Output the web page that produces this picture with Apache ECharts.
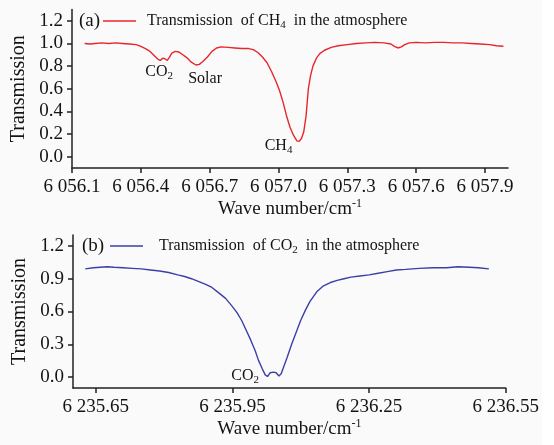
<!DOCTYPE html>
<html>
<head>
<meta charset="utf-8">
<script src="https://cdn.jsdelivr.net/npm/echarts@6/dist/echarts.min.js"></script>
<style>
  html, body { margin: 0; padding: 0; background: #fff; }
  #chart { width: 542px; height: 445px; background: #fafafa; }
</style>
</head>
<body>
<div id="chart"></div>
<script>
// (a) CH4 band
const waveA = [6056.155, 6056.18, 6056.20, 6056.23, 6056.26, 6056.29, 6056.32, 6056.35, 6056.38, 6056.40,
    6056.42, 6056.44, 6056.46, 6056.475, 6056.485, 6056.495, 6056.505, 6056.515, 6056.525, 6056.535,
    6056.55, 6056.565, 6056.58, 6056.60, 6056.62, 6056.64, 6056.655, 6056.67, 6056.69, 6056.71,
    6056.73, 6056.75, 6056.78, 6056.81, 6056.84, 6056.87, 6056.89, 6056.91, 6056.93, 6056.95,
    6056.97, 6056.99, 6057.005, 6057.02, 6057.035, 6057.05, 6057.065, 6057.08, 6057.09, 6057.10,
    6057.11, 6057.12, 6057.13, 6057.14, 6057.15, 6057.165, 6057.18, 6057.20, 6057.23, 6057.26,
    6057.30, 6057.34, 6057.38, 6057.42, 6057.46, 6057.49, 6057.505, 6057.52, 6057.535, 6057.55,
    6057.57, 6057.60, 6057.64, 6057.68, 6057.72, 6057.76, 6057.80, 6057.84, 6057.88, 6057.92,
    6057.95, 6057.98]
const transA = [1.00, 0.995, 1.00, 1.005, 1.00, 1.005, 1.00, 0.995, 0.99, 0.975,
    0.955, 0.93, 0.89, 0.86, 0.85, 0.87, 0.865, 0.85, 0.88, 0.915,
    0.93, 0.925, 0.905, 0.875, 0.835, 0.81, 0.815, 0.84, 0.88, 0.93,
    0.96, 0.97, 0.965, 0.96, 0.955, 0.955, 0.945, 0.92, 0.88, 0.83,
    0.75, 0.66, 0.58, 0.48, 0.36, 0.26, 0.19, 0.14, 0.135, 0.16,
    0.22, 0.36, 0.60, 0.72, 0.80, 0.87, 0.91, 0.94, 0.965, 0.98,
    0.99, 1.00, 1.005, 1.01, 1.005, 0.995, 0.975, 0.96, 0.97, 0.99,
    1.005, 1.01, 1.005, 1.01, 1.01, 1.005, 1.005, 1.00, 0.995, 0.99,
    0.98, 0.975]

// (b) CO2 band
const waveB = [6235.627, 6235.645, 6235.66, 6235.675, 6235.69, 6235.71, 6235.73, 6235.75, 6235.77, 6235.79,
    6235.81, 6235.83, 6235.845, 6235.86, 6235.875, 6235.89, 6235.905, 6235.92, 6235.935, 6235.95,
    6235.96, 6235.97, 6235.98, 6235.99, 6236.00, 6236.007, 6236.015, 6236.022, 6236.027, 6236.033,
    6236.04, 6236.046, 6236.052, 6236.057, 6236.063, 6236.07, 6236.08, 6236.09, 6236.10, 6236.11,
    6236.12, 6236.135, 6236.15, 6236.165, 6236.18, 6236.195, 6236.21, 6236.23, 6236.25, 6236.27,
    6236.29, 6236.31, 6236.33, 6236.36, 6236.39, 6236.42, 6236.445, 6236.47, 6236.49, 6236.513]
const transB = [0.99, 1.00, 1.005, 1.01, 1.005, 1.00, 0.995, 0.99, 0.98, 0.97,
    0.957, 0.935, 0.92, 0.90, 0.875, 0.85, 0.82, 0.77, 0.72, 0.645,
    0.59, 0.52, 0.43, 0.34, 0.24, 0.155, 0.08, 0.02, 0.005, 0.04,
    0.045, 0.04, 0.01, 0.03, 0.10, 0.18, 0.30, 0.41, 0.52, 0.61,
    0.69, 0.78, 0.835, 0.865, 0.885, 0.90, 0.915, 0.925, 0.935, 0.95,
    0.965, 0.98, 0.985, 0.995, 1.00, 1.00, 1.01, 1.005, 1.00, 0.99]

const ticksA = [6056.1, 6056.4, 6056.7, 6057.0, 6057.3, 6057.6, 6057.9]
const ticksB = [6235.65, 6235.95, 6236.25, 6236.55]
const yTicksA = [0, 0.2, 0.4, 0.6, 0.8, 1.0, 1.2]
const yTicksB = [0, 0.3, 0.6, 0.9, 1.2]

// annotation text: [main, subscript, wave number, transmission]
const notesA = [['CO', '2', 6056.48, 0.75], ['Solar', '', 6056.68, 0.69], ['CH', '4', 6057.0, 0.094]]
const notesB = [['CO', '2', 6235.978, 0.015]]

const nameA = 'Transmission  of CH4  in the atmosphere'
const nameB = 'Transmission  of CO2  in the atmosphere'

const FONT = '"Liberation Serif", "Times New Roman", serif'
const INK = '#141414'
const AXIS = '#222'

const richText = {
    t: { fontFamily: FONT, fontSize: 16, lineHeight: 20, color: INK },
    s: { fontFamily: FONT, fontSize: 11, lineHeight: 11, color: INK, verticalAlign: 'bottom' },
    n: { fontFamily: FONT, fontSize: 19, lineHeight: 22, color: INK },
    p: { fontFamily: FONT, fontSize: 12, lineHeight: 12, color: INK, verticalAlign: 'top' }
}

function legendText(name) {
    const m = name.match(/^(.*C[HO])(\d)(.*)$/)
    return '{t|' + m[1] + '}{s|' + m[2] + '}{t|' + m[3] + '}'
}

function noteData(notes) {
    return notes.map(function (n) {
        return {
            coord: [n[2], n[3]],
            label: { formatter: '{t|' + n[0] + '}' + (n[1] ? '{s|' + n[1] + '}' : '') }
        }
    })
}

function waveFmt(d) {
    return function (v) {
        const s = v.toFixed(d)
        return s[0] + ' ' + s.slice(1)
    }
}

function zip(xs, ys) {
    return xs.map(function (x, i) { return [x, ys[i]] })
}

function xAxisOf(grid, min, max, ticks, digits) {
    return {
        type: 'value', gridIndex: grid, min: min, max: max,
        axisLine: { show: true, onZero: false, lineStyle: { color: AXIS, width: 1.5 } },
        axisTick: { show: true, length: 5, customValues: ticks, lineStyle: { color: AXIS, width: 1.5 } },
        axisLabel: { customValues: ticks, formatter: waveFmt(digits), fontFamily: FONT, fontSize: 19, color: INK, margin: 10 },
        splitLine: { show: false },
        name: '{n|Wave number/cm}{p|-1}',
        nameLocation: 'middle',
        nameGap: 29,
        nameTextStyle: { rich: richText }
    }
}

function yAxisOf(grid, ticks) {
    return {
        type: 'value', gridIndex: grid, min: -0.1, max: 1.3,
        axisLine: { show: true, onZero: false, lineStyle: { color: AXIS, width: 1.5 } },
        axisTick: { show: true, length: 5, customValues: ticks, lineStyle: { color: AXIS, width: 1.5 } },
        axisLabel: { customValues: ticks, formatter: function (v) { return v.toFixed(1) }, fontFamily: FONT, fontSize: 19, color: INK, margin: 9 },
        splitLine: { show: false },
        name: 'Transmission',
        nameLocation: 'middle',
        nameGap: 37,
        nameTextStyle: { fontFamily: FONT, fontSize: 20, color: INK }
    }
}

function legendOf(name, left, top, pad) {
    return {
        data: [{ name: name, icon: 'rect' }], left: left, top: top,
        padding: 0,
        itemWidth: 33, itemHeight: 1.5,
        formatter: legendText,
        textStyle: { rich: richText, padding: [0, 0, 0, pad] },
        selectedMode: false
    }
}

function seriesOf(name, idx, xs, ys, color, notes) {
    return {
        name: name, type: 'line', xAxisIndex: idx, yAxisIndex: idx,
        data: zip(xs, ys), symbol: 'none', smooth: false,
        color: color, lineStyle: { color: color, width: 1.4 },
        animation: false,
        markPoint: {
            symbol: 'circle', symbolSize: 1, silent: true, animation: false,
            itemStyle: { color: 'transparent' },
            label: { show: true, position: 'inside', rich: richText },
            data: noteData(notes)
        }
    }
}

const myChart = echarts.init(document.getElementById('chart'))
myChart.setOption({
    animation: false,
    grid: [
        { left: 72, top: 9.5, width: 436, height: 158.5 },
        { left: 73, top: 235, width: 435, height: 153 }
    ],
    xAxis: [xAxisOf(0, 6056.1, 6058.0, ticksA, 1), xAxisOf(1, 6235.6, 6236.55, ticksB, 2)],
    yAxis: [yAxisOf(0, yTicksA), yAxisOf(1, yTicksB)],
    legend: [legendOf(nameA, 103, 13, 6), legendOf(nameB, 110, 238, 11)],
    graphic: [
        { type: 'text', left: 79, top: 12, style: { text: '(a)', font: '19px ' + FONT, fill: INK } },
        { type: 'text', left: 82, top: 237, style: { text: '(b)', font: '19px ' + FONT, fill: INK } }
    ],
    series: [
        seriesOf(nameA, 0, waveA, transA, '#e8262a', notesA),
        seriesOf(nameB, 1, waveB, transB, '#3b3fa6', notesB)
    ]
})
</script>
</body>
</html>
